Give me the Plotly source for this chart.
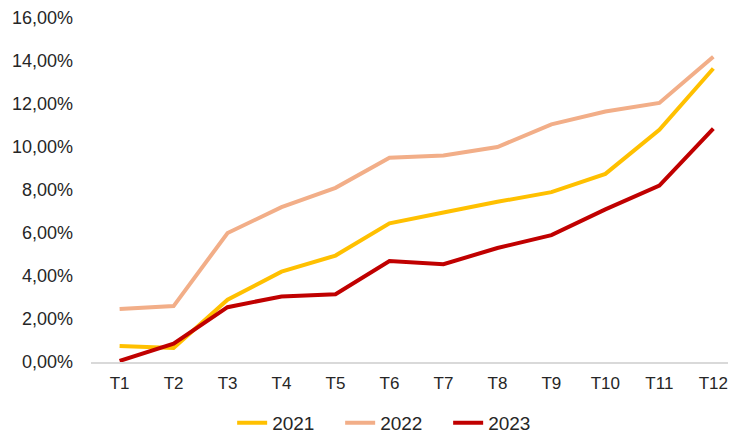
import plotly.graph_objects as go

periods = ["T1", "T2", "T3", "T4", "T5", "T6", "T7", "T8", "T9", "T10", "T11", "T12"]
y2021 = [0.75, 0.65, 2.9, 4.2, 4.95, 6.45, 6.95, 7.45, 7.9, 8.75, 10.8, 13.65]
y2022 = [2.47, 2.6, 6.0, 7.2, 8.1, 9.5, 9.6, 10.0, 11.05, 11.65, 12.05, 14.2]
y2023 = [0.05, 0.85, 2.55, 3.05, 3.15, 4.7, 4.55, 5.3, 5.9, 7.1, 8.2, 10.85]

series = [("2021", y2021, "#FFC000"), ("2022", y2022, "#F2AE88"), ("2023", y2023, "#C00000")]

font_family = "Liberation Sans Narrow, Arial Narrow, Liberation Sans, Arial"

fig = go.Figure()
for name, vals, col in series:
    fig.add_trace(go.Scatter(x=periods, y=vals, name=name, mode="lines",
                             line=dict(color=col, width=4)))

# page body adds an 8px offset, so the figure is a bit smaller than the window
fig.update_layout(
    width=728, height=434,
    margin=dict(l=83, r=0, t=10, b=80),
    plot_bgcolor="white", paper_bgcolor="white",
    separators=", ",
    font=dict(family=font_family, size=18, color="#262626"),
    showlegend=True,
    legend=dict(orientation="h", x=0.47, xanchor="center", yref="container", y=0,
                yanchor="bottom", font=dict(size=19), entrywidth=63, tracegroupgap=0),
)
fig.update_xaxes(range=[-0.53, 11.42], showgrid=False, showline=True, linecolor="#D9D9D9",
                 linewidth=1.5, ticks="", ticklabelstandoff=5, automargin=False,
                 tickfont=dict(size=17))
fig.update_yaxes(range=[0, 16], dtick=2, tickformat=".2f", ticksuffix="%", showgrid=False,
                 zeroline=False, showline=False, ticks="", ticklabelstandoff=17, automargin=False)

fig.write_html("out.html")
